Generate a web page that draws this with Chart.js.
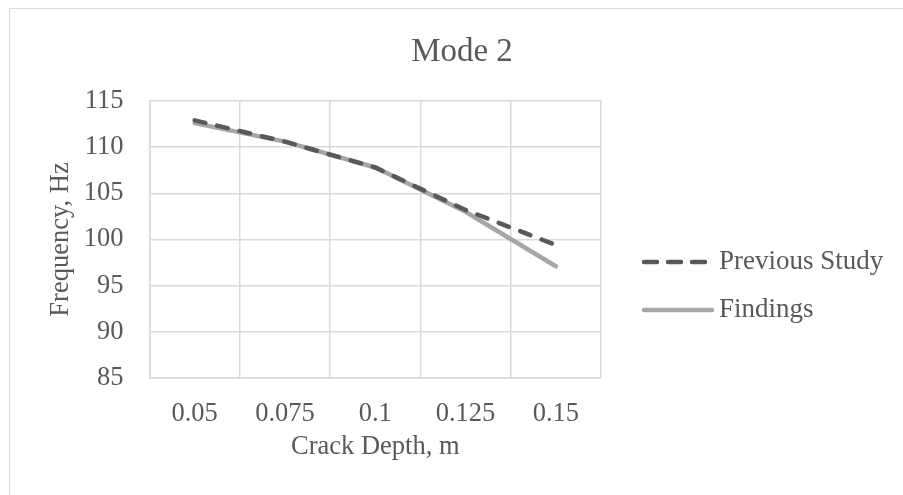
<!DOCTYPE html>
<html>
<head>
<meta charset="utf-8">
<script src="https://cdn.jsdelivr.net/npm/chart.js@4/dist/chart.umd.min.js"></script>
<style>
    html, body { margin: 0; padding: 0; background: #fff; overflow: hidden; }
    #wrap { position: relative; width: 903px; height: 495px; }
    #frame { position: absolute; left: 9px; top: 8px; width: 1000px; height: 600px; border: 1.5px solid #d9d9d9; box-sizing: border-box; }
    canvas { position: absolute; left: 0; top: 0; }
</style>
</head>
<body>
<div id="wrap">
    <div id="frame"></div>
    <canvas id="modeChart" width="903" height="495"></canvas>
</div>
<script>
// ข้อมูลกราฟ Mode 2
const chartTitle = 'Mode 2';
const crackDepths = ['0.05', '0.075', '0.1', '0.125', '0.15'];
const previousStudy = [112.9, 110.6, 107.8, 103.2, 99.4];
const findings = [112.6, 110.6, 107.8, 103.0, 97.1];
const yTicks = [85, 90, 95, 100, 105, 110, 115];

const textColor = '#595959';
const serif = "'Liberation Serif', 'Times New Roman', serif";

// วาดหัวกราฟและคำอธิบายสัญลักษณ์เอง (ตำแหน่งตามต้นฉบับ)
const sideLegend = {
    id: 'sideLegend',
    afterDraw(chart) {
        const ctx = chart.ctx;
        ctx.save();
        ctx.fillStyle = textColor;
        ctx.font = '33px ' + serif;
        ctx.textAlign = 'center';
        ctx.textBaseline = 'middle';
        ctx.fillText(chartTitle, 462, 52);

        const x0 = chart.chartArea.right + 41;
        const rows = [262, 310];
        chart.data.datasets.forEach((ds, i) => {
            const y = rows[i];
            ctx.beginPath();
            ctx.lineWidth = ds.borderWidth;
            ctx.strokeStyle = ds.borderColor;
            ctx.lineCap = ds.borderCapStyle || 'butt';
            ctx.setLineDash(ds.borderDash ? [13, 11] : []);
            ctx.moveTo(x0 + 2, y);
            ctx.lineTo(x0 + 70, y);
            ctx.stroke();
            ctx.setLineDash([]);
            ctx.fillStyle = textColor;
            ctx.font = '27px ' + serif;
            ctx.textAlign = 'left';
            ctx.fillText(ds.label, x0 + 77, y);
        });
        ctx.restore();
    }
};

new Chart(document.getElementById('modeChart'), {
    type: 'line',
    data: {
        labels: crackDepths,
        datasets: [{
            label: 'Previous Study',
            data: previousStudy,
            borderColor: '#595959',
            borderWidth: 4.5,
            borderDash: [11, 12],
            borderCapStyle: 'round',
            pointRadius: 0,
            tension: 0
        }, {
            label: 'Findings',
            data: findings,
            borderColor: '#a6a6a6',
            borderWidth: 4.5,
            borderCapStyle: 'round',
            pointRadius: 0,
            tension: 0
        }]
    },
    options: {
        responsive: false,
        animation: false,
        layout: { padding: { left: 20, top: 101, right: 302, bottom: 32 } },
        plugins: {
            legend: { display: false },
            tooltip: { enabled: false },
            title: { display: false }
        },
        scales: {
            x: {
                offset: true,
                afterFit: scale => { scale.height = 85; },
                grid: { color: '#d9d9d9', lineWidth: 1.5, drawTicks: false, offset: true },
                border: { color: '#d9d9d9', width: 1.5 },
                ticks: { color: textColor, font: { family: serif, size: 26.5 }, padding: 20, maxRotation: 0 },
                title: {
                    display: true,
                    text: 'Crack Depth, m',
                    color: textColor,
                    font: { family: serif, size: 26.5 },
                    padding: { top: 2, bottom: 0 }
                }
            },
            y: {
                min: 85,
                max: 115,
                afterBuildTicks: scale => { scale.ticks = yTicks.map(v => ({ value: v })); },
                afterFit: scale => { scale.width = 129.5; },
                grid: { color: '#d9d9d9', lineWidth: 1.5, drawTicks: false },
                border: { color: '#d9d9d9', width: 1.5 },
                ticks: { color: textColor, font: { family: serif, size: 26.5 }, padding: 26 },
                title: {
                    display: true,
                    text: 'Frequency, Hz',
                    color: textColor,
                    font: { family: serif, size: 26.5 },
                    padding: { top: 25, bottom: 0 }
                }
            }
        }
    },
    plugins: [sideLegend]
});
</script>
</body>
</html>
